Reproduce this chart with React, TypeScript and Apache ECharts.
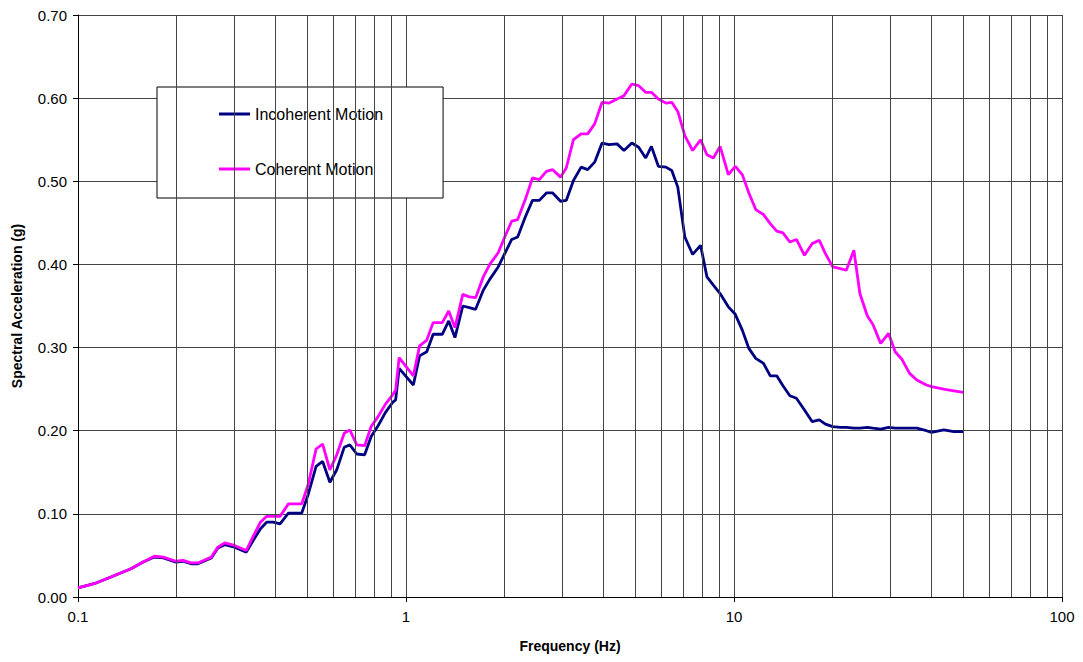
import React, { useEffect, useRef } from "react";
import * as echarts from "echarts";

const frequencies: number[] = [
  0.1, 0.112, 0.126, 0.145, 0.158, 0.171, 0.182, 0.199, 0.209, 0.221, 0.232,
  0.255, 0.267, 0.28, 0.3, 0.326, 0.342, 0.36, 0.376, 0.394, 0.413, 0.438,
  0.481, 0.503, 0.532, 0.557, 0.586, 0.615, 0.648, 0.674, 0.708, 0.748, 0.783,
  0.822, 0.866, 0.91, 0.93, 0.953, 1.053, 1.1, 1.157, 1.21, 1.29, 1.35, 1.41,
  1.49, 1.56, 1.63, 1.72, 1.8, 1.91, 2.0, 2.1, 2.19, 2.31, 2.43, 2.55, 2.68,
  2.8, 2.96, 3.08, 3.24, 3.42, 3.58, 3.76, 3.96, 4.16, 4.4, 4.62, 4.88, 5.12,
  5.38, 5.6, 5.88, 6.2, 6.46, 6.74, 7.08, 7.48, 7.91, 8.27, 8.65, 9.07, 9.61,
  10.09, 10.6, 11.1, 11.65, 12.3, 12.9, 13.5, 14.1, 14.8, 15.5, 16.4, 17.3,
  18.2, 19.0, 20.0, 21.1, 22.0, 23.2, 24.2, 25.5, 26.5, 28.0, 29.6, 31.0, 32.5,
  34.3, 36.1, 38.6, 40.0, 43.6, 46.8, 50.0,
];

const incoherent: number[] = [
  0.011, 0.016, 0.024, 0.034, 0.042, 0.048, 0.047, 0.042, 0.043, 0.04, 0.04,
  0.047, 0.059, 0.063, 0.06, 0.054, 0.068, 0.082, 0.09, 0.09, 0.088, 0.101,
  0.101, 0.123, 0.157, 0.163, 0.138, 0.153, 0.18, 0.183, 0.172, 0.171, 0.193,
  0.206, 0.222, 0.234, 0.237, 0.275, 0.255, 0.29, 0.295, 0.316, 0.316, 0.332,
  0.312, 0.35, 0.348, 0.346, 0.369, 0.382, 0.397, 0.413, 0.43, 0.433, 0.457,
  0.477, 0.477, 0.486, 0.486, 0.476, 0.477, 0.501, 0.517, 0.514, 0.523, 0.546,
  0.544, 0.545, 0.537, 0.546, 0.541, 0.528, 0.542, 0.518, 0.517, 0.513, 0.493,
  0.433, 0.412, 0.423, 0.385, 0.375, 0.365, 0.349, 0.34, 0.321, 0.299, 0.287,
  0.281, 0.266, 0.266, 0.254, 0.242, 0.239, 0.225, 0.211, 0.213, 0.208, 0.205,
  0.204, 0.204, 0.203, 0.203, 0.204, 0.203, 0.202, 0.204, 0.203, 0.203, 0.203,
  0.203, 0.2, 0.198, 0.201, 0.199, 0.199,
];

const coherent: number[] = [
  0.011, 0.016, 0.024, 0.034, 0.042, 0.049, 0.048, 0.043, 0.044, 0.041, 0.041,
  0.048, 0.06, 0.065, 0.062, 0.056, 0.073, 0.09, 0.097, 0.097, 0.097, 0.112,
  0.112, 0.135, 0.178, 0.184, 0.153, 0.171, 0.197, 0.201, 0.183, 0.182, 0.205,
  0.217, 0.232, 0.243, 0.249, 0.288, 0.266, 0.302, 0.309, 0.33, 0.33, 0.344,
  0.324, 0.364, 0.361, 0.36, 0.385, 0.4, 0.414, 0.433, 0.452, 0.454, 0.478,
  0.504, 0.502, 0.512, 0.514, 0.505, 0.516, 0.55, 0.557, 0.557, 0.569, 0.595,
  0.594, 0.599, 0.603, 0.617, 0.615, 0.607, 0.607, 0.599, 0.594, 0.595, 0.584,
  0.555, 0.537, 0.55, 0.532, 0.528, 0.542, 0.508, 0.518, 0.508, 0.486, 0.466,
  0.46, 0.449, 0.44, 0.438, 0.427, 0.43, 0.411, 0.425, 0.429, 0.413, 0.397,
  0.395, 0.393, 0.417, 0.365, 0.338, 0.328, 0.305, 0.317, 0.295, 0.286, 0.269,
  0.261, 0.255, 0.253, 0.25, 0.248, 0.246,
];

const minorGridFreqs: number[] = [
  0.2, 0.3, 0.4, 0.5, 0.6, 0.7, 0.8, 0.9,
  2, 3, 4, 5, 6, 7, 8, 9,
  20, 30, 40, 50, 60, 70, 80, 90,
];

const seriesNames = ["Incoherent Motion", "Coherent Motion"];

const FONT = "'Liberation Sans', Arial, Helvetica, sans-serif";
const GRID_COLOR = "#454545";

export default function App() {
  const ref = useRef<HTMLDivElement>(null);

  useEffect(() => {
    if (!ref.current) return;
    const chart = echarts.init(ref.current, undefined, { renderer: "svg" });
    const toPairs = (vals: number[]) => frequencies.map((f, i) => [f, vals[i]]);

    chart.setOption({
      animation: false,
      backgroundColor: "#ffffff",
      textStyle: { fontFamily: FONT },
      grid: { left: 78, right: 21, top: 15, bottom: 65, containLabel: false },
      legend: {
        data: seriesNames,
        orient: "vertical",
        left: 157,
        top: 87,
        backgroundColor: "#ffffff",
        borderColor: "#000000",
        borderWidth: 1,
        borderRadius: 0,
        padding: [19, 60, 21, 62],
        itemGap: 39,
        itemWidth: 31,
        itemHeight: 3,
        icon: "rect",
        selectedMode: false,
        textStyle: { fontFamily: FONT, fontSize: 16, lineHeight: 16, color: "#000000" },
      },
      xAxis: {
        type: "log",
        logBase: 10,
        min: 0.1,
        max: 100,
        name: "Frequency (Hz)",
        nameLocation: "middle",
        nameGap: 42,
        nameTextStyle: { fontFamily: FONT, fontSize: 14, fontWeight: "bold", color: "#000" },
        axisLine: { show: true, onZero: false, lineStyle: { color: "#000", width: 1 } },
        axisTick: { show: true, length: 5, lineStyle: { color: "#000" } },
        axisLabel: {
          fontFamily: FONT,
          fontSize: 15,
          color: "#000",
          margin: 12,
          formatter: (v: number) => String(Number(v.toPrecision(3))),
        },
        splitLine: { show: true, lineStyle: { color: GRID_COLOR, width: 1 } },
        minorTick: { show: false },
        minorSplitLine: { show: false },
      },
      yAxis: {
        type: "value",
        min: 0,
        max: 0.7,
        interval: 0.1,
        name: "Spectral Acceleration (g)",
        nameLocation: "middle",
        nameGap: 54,
        nameTextStyle: { fontFamily: FONT, fontSize: 14, fontWeight: "bold", color: "#000" },
        axisLine: { show: true, lineStyle: { color: "#000", width: 1 } },
        axisTick: { show: true, length: 5, lineStyle: { color: "#000" } },
        axisLabel: {
          fontFamily: FONT,
          fontSize: 15,
          color: "#000",
          margin: 11,
          formatter: (v: number) => v.toFixed(2),
        },
        splitLine: { show: true, lineStyle: { color: GRID_COLOR, width: 1 } },
      },
      series: [
        {
          name: "gridlines",
          type: "line",
          z: 1,
          silent: true,
          showSymbol: false,
          symbol: "none",
          data: [
            [0.1, 0],
            [100, 0],
          ],
          lineStyle: { opacity: 0, width: 0 },
          markLine: {
            silent: true,
            symbol: ["none", "none"],
            label: { show: false },
            emphasis: { disabled: true },
            lineStyle: { color: GRID_COLOR, width: 1, type: "solid" },
            data: minorGridFreqs.map((f) => ({ xAxis: f })),
          },
        },
        {
          name: seriesNames[0],
          type: "line",
          z: 3,
          showSymbol: false,
          symbol: "none",
          color: "#000080",
          itemStyle: { color: "#000080" },
          lineStyle: { color: "#000080", width: 2.8 },
          data: toPairs(incoherent),
        },
        {
          name: seriesNames[1],
          type: "line",
          z: 4,
          showSymbol: false,
          symbol: "none",
          color: "#ff00ff",
          itemStyle: { color: "#ff00ff" },
          lineStyle: { color: "#ff00ff", width: 2.8 },
          data: toPairs(coherent),
        },
      ],
    });

    return () => chart.dispose();
  }, []);

  return (
    <div
      ref={ref}
      style={{
        position: "absolute",
        left: 0,
        top: 0,
        width: 1083,
        height: 662,
        background: "#ffffff",
      }}
    />
  );
}
